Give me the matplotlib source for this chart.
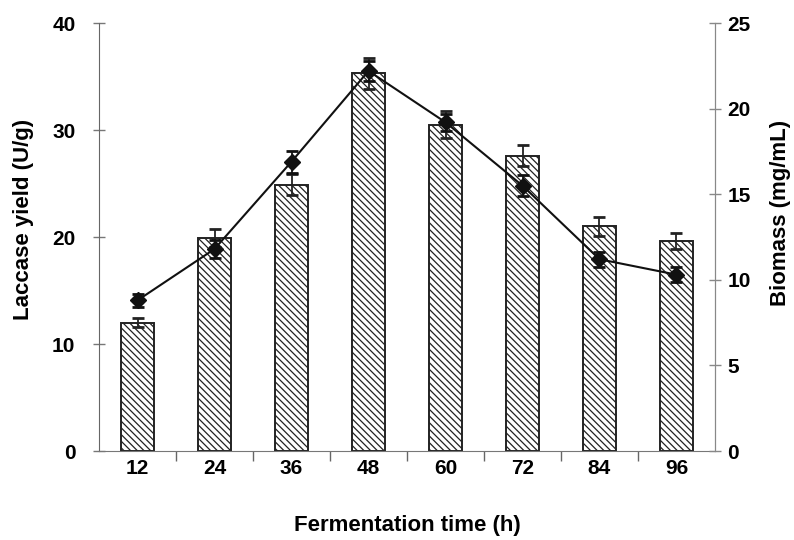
import numpy as np
import matplotlib
matplotlib.use('Agg')
from matplotlib import pyplot as plt

plt.rcParams['font.family'] = ['Liberation Sans', 'DejaVu Sans']
plt.rcParams['font.weight'] = 'bold'
plt.rcParams['hatch.linewidth'] = 0.9
plt.rcParams['hatch.color'] = '#222222'

# fermentation time course
hours = ['12', '24', '36', '48', '60', '72', '84', '96']
laccase = [12.0, 19.9, 24.9, 35.3, 30.5, 27.6, 21.0, 19.6]
laccase_err = [0.4, 0.85, 0.95, 1.45, 1.25, 1.0, 0.9, 0.75]
biomass = [8.8, 11.8, 16.9, 22.2, 19.2, 15.5, 11.2, 10.3]
biomass_err = [0.4, 0.5, 0.65, 0.6, 0.5, 0.6, 0.45, 0.45]

x = np.arange(len(hours))

fig = plt.figure(figsize=(7.94, 5.40), dpi=100)
ax = fig.add_axes([0.1247, 0.1648, 0.9005 - 0.1247, 0.9574 - 0.1648])

ax.bar(x, laccase, width=0.42, color='white', edgecolor='#222222',
       linewidth=1.4, hatch='\\\\\\\\\\', zorder=2)
ax.errorbar(x, laccase, yerr=laccase_err, fmt='none', ecolor='#222222',
            elinewidth=1.3, capsize=4.5, capthick=2, zorder=3)

ax.set_xlim(-0.5, len(hours) - 0.5)
ax.set_ylim(0, 40)
ax.set_yticks([0, 10, 20, 30, 40])
ax.set_xticks(x)
ax.set_xticklabels(hours)
ax.tick_params(axis='x', length=0, labelsize=15, pad=6)
ax.set_xticks(x[:-1] + 0.5, minor=True)
ax.tick_params(axis='x', which='minor', length=7, width=1, color='#666666', direction='out')
ax.tick_params(axis='y', length=8, width=1, direction='inout', labelsize=15,
               color='#777777', pad=13)

ax.spines['top'].set_visible(False)
ax.spines['left'].set_color('#666666')
ax.spines['bottom'].set_color('#777777')
ax.spines['right'].set_color('#888888')

ax.set_xlabel('Fermentation time (h)', fontsize=16, fontweight='bold')
ax.set_ylabel('Laccase yield (U/g)', fontsize=16, fontweight='bold')
ax.xaxis.set_label_coords(0.5, -0.15)
ax.yaxis.set_label_coords(-0.106, 0.542)

ax2 = ax.twinx()
ax2.errorbar(x, biomass, yerr=biomass_err, color='#111111', marker='D',
             markersize=8, linewidth=1.5, elinewidth=1.3, capsize=4.5,
             capthick=2, zorder=4)
ax2.set_ylim(0, 25)
ax2.set_yticks([0, 5, 10, 15, 20, 25])
ax2.tick_params(axis='y', length=8, width=1, direction='inout', labelsize=15,
                color='#888888', pad=5)
ax2.spines['top'].set_visible(False)
ax2.spines['right'].set_color('#888888')
ax2.spines['left'].set_visible(False)
ax2.spines['bottom'].set_visible(False)
ax2.set_ylabel('Biomass (mg/mL)', fontsize=16, fontweight='bold')
ax2.yaxis.set_label_coords(1.089, 0.556)

fig.savefig('out.png', dpi=100)
